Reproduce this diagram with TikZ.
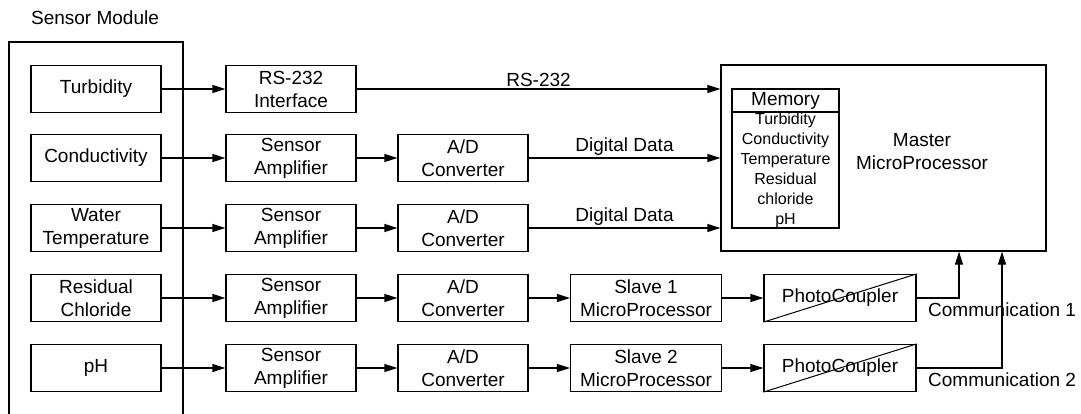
\documentclass[tikz,border=0pt]{standalone}
\usepackage{fontspec}
\setmainfont{Liberation Sans}
\usepackage{tikz}
\usetikzlibrary{positioning, arrows.meta, calc}

\begin{document}
\begin{tikzpicture}[x=1pt, y=-1pt,
          box/.style={draw, line width=1.2pt, minimum width=130pt,
                      minimum height=47pt, inner sep=1pt, align=center,
                      font=\fontsize{19}{23}\selectfont},
          wbox/.style={box, minimum width=151pt},
          lbl/.style={font=\fontsize{19}{23}\selectfont, inner sep=2pt, align=center},
          arr/.style={-{Triangle[length=13pt, width=8pt]}, line width=1.2pt}
        ]
        \useasboundingbox (0,0) rectangle (1081,414);

        % sensor module frame
        \node[lbl] (modlbl) at (95, 18) {Sensor Module};
        \draw[line width=1.2pt] (9,414) -- (9,42) -- (183,42) -- (183,414);

        \node[box] (turb) at (96, 89)  {Turbidity};
        \node[box] (cond) at (96, 158) {Conductivity};
        \node[box] (temp) at (96, 228) {Water\\Temperature};
        \node[box] (resi) at (96, 298) {Residual\\Chloride};
        \node[box] (ph)   at (96, 368) {pH};

        \node[box] (rs)   at (291, 89)  {RS-232\\Interface};
        \node[box] (amp2) at (291, 158) {Sensor\\Amplifier};
        \node[box] (amp3) at (291, 228) {Sensor\\Amplifier};
        \node[box] (amp4) at (291, 298) {Sensor\\Amplifier};
        \node[box] (amp5) at (291, 368) {Sensor\\Amplifier};

        \node[box] (ad2) at (463, 158) {A/D\\Converter};
        \node[box] (ad3) at (463, 228) {A/D\\Converter};
        \node[box] (ad4) at (463, 298) {A/D\\Converter};
        \node[box] (ad5) at (463, 368) {A/D\\Converter};

        \node[wbox] (sl1) at (646, 298) {Slave 1\\MicroProcessor};
        \node[wbox] (sl2) at (646, 368) {Slave 2\\MicroProcessor};

        \node[wbox, minimum width=152pt] (pc1) at (840, 298) {PhotoCoupler};
        \node[wbox, minimum width=152pt] (pc2) at (840, 368) {PhotoCoupler};
        \draw[line width=1pt] (pc1.south west) -- (pc1.north east);
        \draw[line width=1pt] (pc2.south west) -- (pc2.north east);

        % master processor with its memory
        \node[box, minimum width=325pt, minimum height=186pt] (mst) at (883.5, 158) {};
        \node[lbl] (mstlbl) at (922, 152) {Master\\MicroProcessor};
        \node[draw, line width=1.2pt, minimum width=107pt, minimum height=139pt]
              (mem) at (785.5, 158.5) {};
        \draw[line width=1.2pt] (mem.west |- 0,112) -- (mem.east |- 0,112);
        \node[lbl] (memhd) at (785.5, 100.5) {Memory};
        \node[align=center, inner sep=0pt, font=\fontsize{16}{20}\selectfont]
              (memlist) at (785.5, 170)
              {Turbidity\\Conductivity\\Temperature\\Residual\\chloride\\pH};

        \coordinate (up1) at (959, 298);
        \coordinate (up2) at (1002, 368);

        \draw[arr] (turb) -- (rs);
        \draw[arr] (rs) -- (rs -| mst.west)
              node[midway, above, lbl] (lrs) {RS-232};
        \draw[arr] (cond) -- (amp2);
        \draw[arr] (amp2) -- (ad2);
        \draw[arr] (ad2) -- (ad2 -| mst.west)
              node[midway, above, lbl] (ldd2) {Digital Data};
        \draw[arr] (temp) -- (amp3);
        \draw[arr] (amp3) -- (ad3);
        \draw[arr] (ad3) -- (ad3 -| mst.west)
              node[midway, above, lbl] (ldd3) {Digital Data};
        \draw[arr] (resi) -- (amp4);
        \draw[arr] (amp4) -- (ad4);
        \draw[arr] (ad4) -- (sl1);
        \draw[arr] (sl1) -- (pc1);
        \draw[arr] (ph) -- (amp5);
        \draw[arr] (amp5) -- (ad5);
        \draw[arr] (ad5) -- (sl2);
        \draw[arr] (sl2) -- (pc2);

        % links to the master
        \draw[arr] (pc1.east) -- (up1) -- (up1 |- mst.south);
        \draw[arr] (pc2.east) -- (up2) -- (up2 |- mst.south);
        \node[lbl, anchor=west] (com1) at (926, 310) {Communication 1};
        \node[lbl, anchor=west] (com2) at (926, 380) {Communication 2};
      \end{tikzpicture}
\end{document}
